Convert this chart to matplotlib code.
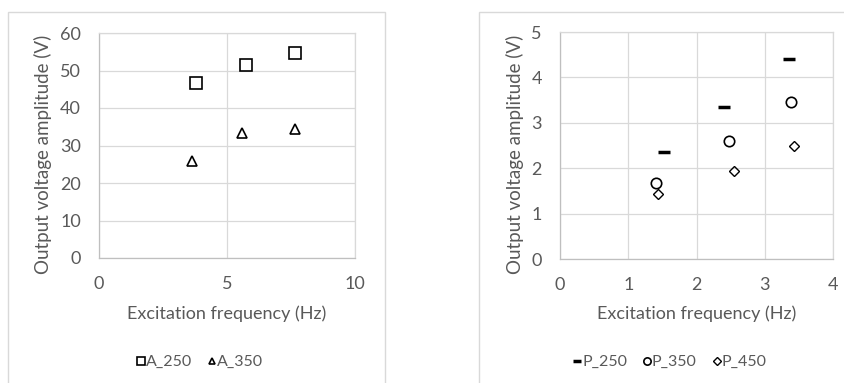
import matplotlib.pyplot as plt
from matplotlib.patches import Rectangle

plt.rcParams['font.family'] = ['Lato', 'DejaVu Sans']

# left chart data
a250_x = [3.8, 5.75, 7.65]
a250_y = [46.7, 51.4, 54.6]
a350_x = [3.62, 5.6, 7.64]
a350_y = [25.8, 33.4, 34.4]

# right chart data
p250_x = [1.52, 2.41, 3.36]
p250_y = [2.36, 3.35, 4.40]
p350_x = [1.40, 2.47, 3.38]
p350_y = [1.67, 2.61, 3.45]
p450_x = [1.44, 2.55, 3.43]
p450_y = [1.43, 1.93, 2.50]

W, H = 844, 383
txt = '#595959'
grid = '#d9d9d9'

fig = plt.figure(figsize=(W / 100, H / 100), dpi=100)

def px(x0, y0, x1, y1):
    return [x0 / W, 1 - y1 / H, (x1 - x0) / W, (y1 - y0) / H]

# chart frames
fig.patches.append(Rectangle((8 / W, -0.01), (385 - 8) / W, 1 - 12 / H + 0.01,
                             transform=fig.transFigure, fill=False, ec='#d9d9d9', lw=1))
fig.patches.append(Rectangle((479 / W, -0.01), (W + 5 - 479) / W, 1 - 12 / H + 0.01,
                             transform=fig.transFigure, fill=False, ec='#d9d9d9', lw=1))

def style(ax, xlim, ylim, xt, yt, xlab_y, ylab_x):
    ax.set_xlim(*xlim)
    ax.set_ylim(*ylim)
    ax.set_xticks(xt)
    ax.set_yticks(yt)
    ax.grid(True, color=grid, lw=0.9)
    ax.set_axisbelow(True)
    for s in ax.spines.values():
        s.set_color(grid)
        s.set_linewidth(0.9)
    ax.spines['left'].set_color('#bfbfbf')
    ax.spines['bottom'].set_color('#bfbfbf')
    ax.tick_params(length=0, colors=txt, labelsize=13, pad=13)
    ax.set_xlabel('Excitation frequency (Hz)', color=txt, fontsize=13, va='center')
    ax.set_ylabel('Output voltage amplitude (V)', color=txt, fontsize=13.5, va='center')
    ax.xaxis.set_label_coords(0.5, xlab_y)
    ax.yaxis.set_label_coords(ylab_x, 0.46)

ax1 = fig.add_axes(px(99, 33, 355, 258))
style(ax1, (0, 10), (0, 60), [0, 5, 10], range(0, 61, 10), -0.249, -0.219)
ax1.plot(a250_x, a250_y, ls='none', marker='s', ms=8, mfc='none', mec='black', mew=1.2, label='A_250')
ax1.plot(a350_x, a350_y, ls='none', marker='^', ms=7, mfc='none', mec='black', mew=1.2, label='A_350')
ax1.legend(loc='center', bbox_to_anchor=(200 / W, 1 - 362 / H), bbox_transform=fig.transFigure,
           ncol=2, frameon=False, fontsize=11.5, labelcolor=txt, handlelength=0.5,
           handletextpad=0.05, columnspacing=1.0, markerscale=0.7)

ax2 = fig.add_axes(px(560, 32, 833, 259))
style(ax2, (0, 4), (0, 5), range(0, 5), range(0, 6), -0.242, -0.165)
ax2.plot(p250_x, p250_y, ls='none', marker='_', ms=8.5, mec='black', mew=2.5, label='P_250')
ax2.plot(p350_x, p350_y, ls='none', marker='o', ms=7.5, mfc='none', mec='black', mew=1.2, label='P_350')
ax2.plot(p450_x, p450_y, ls='none', marker='D', ms=5.5, mfc='none', mec='black', mew=1.0, label='P_450')
ax2.legend(loc='center', bbox_to_anchor=(670 / W, 1 - 362 / H), bbox_transform=fig.transFigure,
           ncol=3, frameon=False, fontsize=11.5, labelcolor=txt, handlelength=0.5,
           handletextpad=0.05, columnspacing=1.0, markerscale=0.7)

fig.savefig('out.png', dpi=100)
